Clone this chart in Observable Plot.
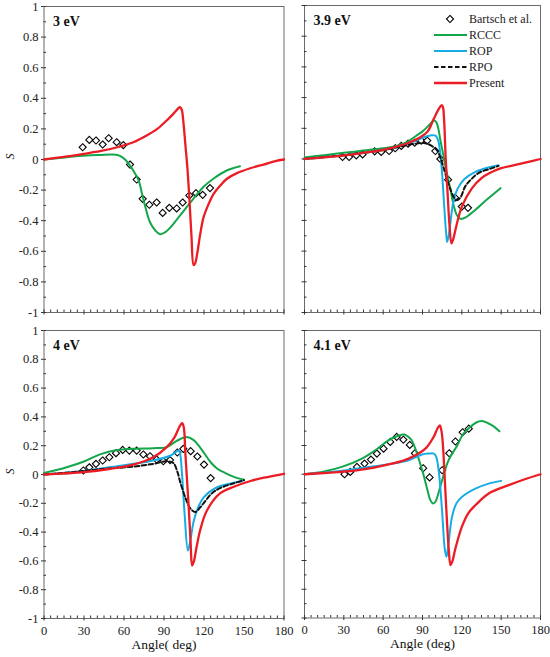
<!DOCTYPE html>
<html>
<head>
<meta charset="utf-8">
<script src="https://cdn.jsdelivr.net/npm/d3@7"></script>
<script src="https://cdn.jsdelivr.net/npm/@observablehq/plot@0.6"></script>
<style>
  body { margin: 0; background: white; }
  #wrap { position: relative; width: 550px; height: 657px; background: white; font-family: "Liberation Serif", "DejaVu Serif", serif; }
  #wrap svg, #wrap svg text { font-family: "Liberation Serif", "DejaVu Serif", serif !important; }
  .panel { position: absolute; }
  #legend { position: absolute; left: 425px; top: 8px; }
</style>
</head>
<body>
<div id="wrap"></div>
<script>
// ---------- ticks ----------
const yMajor = [-1, -0.8, -0.6, -0.4, -0.2, 0, 0.2, 0.4, 0.6, 0.8, 1];
const yMinor = [-0.9, -0.7, -0.5, -0.3, -0.1, 0.1, 0.3, 0.5, 0.7, 0.9];
const xMajor = [0, 30, 60, 90, 120, 150, 180];
const xMinor = [5,10,15,20,25,35,40,45,50,55,65,70,75,80,85,95,100,105,110,115,125,130,135,140,145,155,160,165,170,175];
const yLabels = ["-1", "-0.8", "-0.6", "-0.4", "-0.2", "0", "0.2", "0.4", "0.6", "0.8", "1"];
const xLabels = ["0", "30", "60", "90", "120", "150", "180"];

const seriesNames = ["Bartsch et al.", "RCCC", "ROP", "RPO", "Present"];
const panelLabels = ["3 eV", "3.9 eV", "4 eV", "4.1 eV"];

// ---------- 3 eV ----------
const bartsch3 = [[29,0.08],[34,0.128],[39,0.124],[44,0.098],[48.5,0.139],[54.5,0.113],[59.5,0.094],[64.5,-0.033],[69.5,-0.131],[74,-0.257],[79,-0.296],[84.5,-0.281],[89,-0.349],[94,-0.316],[99.5,-0.32],[104,-0.281],[109,-0.235],[114,-0.22],[119,-0.231],[124.5,-0.187]];
const rccc3 = [[0,0],[17,0.015],[32,0.026],[42,0.03],[52,0.033],[57,0.024],[61,-0.002],[64.5,-0.04],[68.5,-0.094],[71,-0.137],[73.5,-0.224],[76,-0.31],[79.5,-0.41],[83.5,-0.464],[87,-0.488],[91,-0.475],[95,-0.442],[100,-0.388],[106,-0.322],[112,-0.257],[119.5,-0.18],[127,-0.126],[137,-0.072],[147,-0.044]];
const present3 = [[0,0],[15,0.017],[30,0.037],[42,0.054],[55,0.08],[67,0.113],[77,0.157],[85,0.2],[92,0.255],[97,0.298],[100.5,0.333],[102,0.342],[103.3,0.325],[104.6,0.24],[106,0.1],[107.5,-0.05],[109,-0.25],[110.6,-0.5],[112.2,-0.69],[113.3,-0.68],[115,-0.61],[117.2,-0.486],[119.7,-0.377],[123.5,-0.29],[127.2,-0.224],[132.2,-0.17],[137.2,-0.126],[144.7,-0.089],[154.7,-0.057],[164.7,-0.033],[173.5,-0.01],[180,0]];

// ---------- 3.9 eV ----------
const bartsch39 = [[29,0.013],[34,0.013],[39.5,0.024],[44.3,0.03],[53.5,0.05],[58.5,0.046],[64.5,0.052],[69.2,0.07],[73.8,0.085],[79,0.1],[84,0.106],[89,0.12],[93.6,0.12],[99.8,0.052],[103.6,0],[109.5,-0.135],[114.8,-0.252],[120,-0.31],[124.7,-0.318]];
const rccc39 = [[0,0.01],[15,0.025],[30,0.04],[45,0.055],[60,0.07],[70,0.085],[78,0.11],[85,0.15],[90,0.18],[95,0.22],[98.7,0.25],[100.5,0.24],[102,0.2],[103.7,0.12],[106,0.02],[108.5,-0.09],[111.4,-0.2],[114,-0.31],[116.5,-0.37],[119,-0.39],[123,-0.38],[130,-0.334],[140,-0.258],[149.5,-0.19]];
const rop39 = [[0,0],[15,0.012],[30,0.025],[45,0.04],[60,0.06],[75,0.09],[85,0.12],[92,0.145],[97,0.155],[100,0.152],[102,0.12],[103.5,0.04],[105,-0.1],[106.5,-0.3],[108,-0.48],[108.8,-0.54],[110,-0.5],[111.5,-0.4],[113.5,-0.28],[117,-0.19],[122,-0.13],[130,-0.085],[140,-0.055],[148,-0.04]];
const rpo39 = [[0,0],[15,0.012],[30,0.025],[45,0.04],[60,0.058],[75,0.085],[85,0.1],[91,0.105],[96,0.09],[101,0.057],[104,0.0],[106.3,-0.063],[109,-0.14],[111.4,-0.2],[114,-0.25],[116.5,-0.268],[119,-0.25],[122.5,-0.18],[126.6,-0.137],[133,-0.09],[141.9,-0.063],[148,-0.045]];
const present39 = [[0,0],[15,0.01],[28.5,0.022],[45,0.04],[60,0.06],[79,0.104],[88,0.14],[94,0.18],[98.5,0.26],[102,0.32],[104.5,0.35],[105.5,0.34],[106.5,0.25],[107.6,0.02],[109,-0.2],[110.5,-0.42],[112.1,-0.55],[113.5,-0.52],[116,-0.43],[120,-0.31],[127.8,-0.19],[135,-0.125],[140.5,-0.095],[150,-0.06],[160,-0.04],[170,-0.02],[180,0]];

// ---------- 4 eV ----------
const bartsch4 = [[29.5,0.028],[34,0.05],[39,0.074],[44,0.097],[49,0.12],[54,0.148],[59,0.171],[64,0.166],[69.5,0.166],[74.5,0.139],[79.5,0.127],[84.5,0.104],[89.5,0.092],[94.5,0.1],[100,0.153],[104.5,0.178],[110,0.162],[115,0.125],[120,0.069],[125,-0.025]];
const rccc4 = [[0,0.01],[17,0.05],[30,0.09],[42,0.14],[55,0.17],[67,0.178],[82,0.183],[92,0.19],[100,0.236],[107,0.26],[112,0.24],[116,0.2],[120,0.15],[125,0.085],[130,0.04],[136,0.01],[142,-0.015],[150,-0.037]];
const rop4 = [[0,0],[20,0.015],[42,0.04],[67,0.074],[82,0.097],[95,0.132],[99.5,0.16],[101,0.167],[102,0.15],[103.5,0.005],[105.5,-0.28],[107.9,-0.528],[109.5,-0.47],[112.4,-0.32],[116,-0.22],[119.9,-0.157],[129.9,-0.088],[140,-0.062],[149,-0.045]];
const rpo4 = [[0,0],[20,0.015],[42,0.037],[67,0.055],[82,0.074],[92,0.092],[97,0.08],[100,0.02],[102.4,-0.06],[106,-0.16],[109.9,-0.238],[113.5,-0.26],[117,-0.23],[120.5,-0.19],[126,-0.13],[132,-0.095],[142,-0.062],[150,-0.04]];
const present4 = [[0,0],[15,0.007],[30,0.016],[50,0.04],[67,0.069],[82,0.12],[92,0.19],[98,0.26],[101.5,0.33],[103.6,0.356],[104.8,0.33],[106,0.15],[107,0],[108.5,-0.22],[110,-0.48],[111.1,-0.632],[112.5,-0.6],[114.5,-0.5],[117.3,-0.38],[122.2,-0.25],[132.2,-0.13],[142.4,-0.085],[154.9,-0.045],[165,-0.022],[180,0.005]];

// ---------- 4.1 eV ----------
const bartsch41 = [[30.5,0.0],[34.9,0.016],[40,0.051],[45.8,0.074],[50.7,0.102],[55.2,0.144],[60.3,0.178],[65.4,0.225],[70.3,0.26],[75.4,0.24],[80.3,0.204],[84.2,0.146],[90.5,0.042],[95.4,-0.022],[105,0.028],[110.4,0.146],[115.1,0.228],[120.6,0.292],[125.3,0.317]];
const rccc41 = [[0,0],[15,0.02],[28.5,0.051],[43.8,0.109],[54,0.167],[64,0.236],[72,0.27],[76,0.276],[79,0.262],[81.5,0.24],[84,0.19],[87,0.11],[90.5,0.005],[93.5,-0.1],[96,-0.18],[98.2,-0.204],[100,-0.19],[102.5,-0.12],[106.3,0.0],[110,0.1],[116.5,0.2],[121,0.28],[126.6,0.33],[131,0.36],[135.4,0.37],[140,0.355],[144,0.335],[148.7,0.299]];
const rop41 = [[0,0],[20,0.015],[41,0.04],[66.7,0.074],[79.4,0.097],[89.6,0.137],[95,0.144],[98.6,0.144],[100.3,0.125],[102.3,0.028],[104.9,-0.25],[107,-0.52],[108.3,-0.574],[109.5,-0.51],[112.5,-0.297],[116,-0.2],[120,-0.158],[130.3,-0.1],[140.5,-0.065],[150,-0.046]];
const present41 = [[0,0],[20,0.012],[41,0.028],[66.7,0.074],[79.4,0.109],[92.2,0.178],[98.5,0.26],[101.5,0.32],[103.2,0.34],[104.5,0.3],[105.6,0.2],[106.8,0.0],[108.5,-0.3],[110,-0.52],[111.4,-0.632],[113,-0.6],[115,-0.52],[120,-0.366],[125,-0.27],[130.3,-0.216],[140.5,-0.134],[155.8,-0.076],[168,-0.035],[180,0]];

const colors = { RCCC: "#14a64a", ROP: "#17ade4", RPO: "#111111", Present: "#ec1c24" };

const toRows = (arr) => arr.map(([a, s]) => ({ angle: a, s }));
const FONT = '"Liberation Serif", "DejaVu Serif", serif';

function panel(opts) {
  const { width, height, ml, mr, mt, mb, label, showX, showY, xTitle, exp, lines } = opts;
  const fmtY = (d) => yLabels[yMajor.indexOf(d)];
  const fmtX = (d) => xLabels[xMajor.indexOf(d)];
  const blank = () => "";
  const marks = [
    Plot.frame({ stroke: "#6b6b6b", strokeWidth: 1 }),
    Plot.axisY(yMajor, { tickSize: 2.5, tickPadding: 3, tickFormat: showY ? fmtY : blank, label: null, fontSize: 12.5, stroke: "#333", fill: "#222" }),
    Plot.axisY(yMajor, { tickSize: -2.5, tickFormat: blank, label: null, stroke: "#333" }),
    Plot.axisY(yMinor, { tickSize: -2.5, tickFormat: blank, label: null, stroke: "#333" }),
    Plot.axisX(xMajor, { tickSize: 2.5, tickPadding: 5, tickFormat: showX ? fmtX : blank, label: null, fontSize: 12.5, stroke: "#333", fill: "#222" }),
    Plot.axisX(xMajor, { tickSize: -2.5, tickFormat: blank, label: null, stroke: "#333" }),
    Plot.axisX(xMinor, { tickSize: -2.5, tickFormat: blank, label: null, stroke: "#333" }),
  ];
  marks.push(Plot.dot(toRows(exp), { x: "angle", y: "s", symbol: "diamond2", r: 3.2, stroke: "#000", strokeWidth: 1.1, fill: "white" }));
  for (const [name, data] of lines) {
    marks.push(Plot.line(toRows(data), {
      x: "angle", y: "s", stroke: colors[name],
      strokeWidth: name === "Present" ? 2.3 : 2,
      strokeDasharray: name === "RPO" ? "4.5,2.5" : null,
      curve: "catmull-rom"
    }));
  }
  marks.push(Plot.text([label], { frameAnchor: "top-left", dx: 9, dy: 10, fontWeight: "bold", fontSize: 14, textAnchor: "start", lineAnchor: "top", fill: "#111", fontFamily: FONT }));
  if (showY) marks.push(Plot.text(["S"], { frameAnchor: "left", dx: -34, rotate: -90, fontStyle: "italic", fontSize: 12, fill: "#111", fontFamily: FONT }));
  if (xTitle) marks.push(Plot.text([xTitle], { frameAnchor: "bottom", dy: 30, fontSize: 13.5, fill: "#111", fontFamily: FONT }));
  return Plot.plot({
    width, height,
    marginLeft: ml, marginRight: mr, marginTop: mt, marginBottom: mb,
    x: { domain: [0, 180], axis: null },
    y: { domain: [-1, 1], axis: null },
    style: { fontFamily: FONT, overflow: "visible", background: "transparent", color: "#222" },
    marks
  });
}

const wrap = document.getElementById("wrap");
const specs = [
  { left: 0, top: 0, width: 290, height: 320, ml: 43.5, mr: 6.5, mt: 6, mb: 8, label: panelLabels[0], showX: false, showY: true, xTitle: null,
    exp: bartsch3, lines: [["RCCC", rccc3], ["Present", present3]] },
  { left: 290, top: 0, width: 260, height: 320, ml: 14, mr: 10, mt: 5, mb: 8, label: panelLabels[1], showX: false, showY: false, xTitle: null,
    exp: bartsch39, lines: [["RCCC", rccc39], ["ROP", rop39], ["RPO", rpo39], ["Present", present39]] },
  { left: 0, top: 320, width: 290, height: 337, ml: 43.5, mr: 6.5, mt: 10, mb: 39, label: panelLabels[2], showX: true, showY: true, xTitle: "Angle( deg)",
    exp: bartsch4, lines: [["RCCC", rccc4], ["ROP", rop4], ["RPO", rpo4], ["Present", present4]] },
  { left: 290, top: 320, width: 260, height: 337, ml: 14, mr: 10, mt: 10, mb: 39.5, label: panelLabels[3], showX: true, showY: false, xTitle: "Angle (deg)",
    exp: bartsch41, lines: [["RCCC", rccc41], ["ROP", rop41], ["Present", present41]] },
];
for (const s of specs) {
  const div = document.createElement("div");
  div.className = "panel";
  div.style.left = s.left + "px";
  div.style.top = s.top + "px";
  div.appendChild(panel(s));
  wrap.appendChild(div);
}

// ---------- legend ----------
const leg = d3.select(wrap).append("svg").attr("id", "legend").attr("width", 120).attr("height", 86);
const rowH = 16;
seriesNames.forEach((name, i) => {
  const g = leg.append("g").attr("transform", `translate(0,${11 + i * rowH})`);
  if (i === 0) {
    g.append("path").attr("d", d3.symbol(d3.symbolDiamond2, 3.2 * 3.2 * Math.PI)()).attr("transform", "translate(25,0)")
      .attr("fill", "white").attr("stroke", "#000").attr("stroke-width", 1.1);
  } else {
    g.append("line").attr("x1", 9).attr("x2", 42).attr("y1", 0).attr("y2", 0)
      .attr("stroke", colors[name]).attr("stroke-width", name === "Present" ? 2.3 : 2)
      .attr("stroke-dasharray", name === "RPO" ? "4.5,2.5" : null);
  }
  g.append("text").attr("x", 44).attr("y", 0).attr("dy", "0.35em").attr("font-size", 12)
    .attr("fill", "#222").text(name);
});
</script>
</body>
</html>
